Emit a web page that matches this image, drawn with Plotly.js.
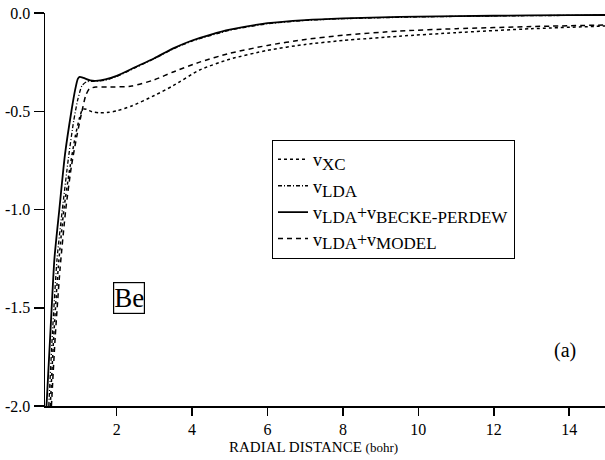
<!DOCTYPE html>
<html>
<head>
<meta charset="utf-8">
<script src="https://cdn.plot.ly/plotly-3.0.1.min.js"></script>
<style>html,body{margin:0;padding:0;background:#fff;}#chart{width:605px;height:460px;}</style>
</head>
<body>
<div id="chart"></div>
<script>
// v_XC (dotted)
const xcR = [0.24,0.33,0.45,0.6,0.75,0.9,1.02,1.1,1.2,1.35,1.55,1.8,2.0,2.4,3,3.5,4.2,5,6,7,8,9.5,11,13,15];
const xcV = [-2.0,-1.65,-1.3,-1.0,-0.8,-0.63,-0.53,-0.49,-0.49,-0.503,-0.508,-0.505,-0.498,-0.473,-0.42,-0.37,-0.29,-0.235,-0.19,-0.16,-0.14,-0.118,-0.1,-0.08,-0.066];
// v_LDA (dash-dot)
const ldaR = [0.2,0.3,0.42,0.56,0.72,0.86,0.97,1.08,1.2,1.4,1.7,2.0,2.5,3,3.5,4,5,6,7,8,10,12,15];
const ldaV = [-2.0,-1.62,-1.25,-1.0,-0.74,-0.55,-0.44,-0.37,-0.35,-0.348,-0.342,-0.323,-0.278,-0.232,-0.183,-0.143,-0.088,-0.055,-0.038,-0.029,-0.02,-0.015,-0.011];
// v_LDA + v_BECKE-PERDEW (solid)
const bpR = [0.14,0.25,0.35,0.48,0.63,0.8,0.9,0.97,1.02,1.12,1.3,1.45,1.7,2.0,2.5,3,3.5,4,4.5,5,6,7,8,9,10,12,14,15];
const bpV = [-2.0,-1.6,-1.25,-1.0,-0.72,-0.5,-0.39,-0.335,-0.325,-0.33,-0.343,-0.345,-0.338,-0.32,-0.275,-0.23,-0.18,-0.14,-0.11,-0.085,-0.052,-0.036,-0.027,-0.022,-0.018,-0.014,-0.011,-0.01];
// v_LDA + v_MODEL (dashed)
const modR = [0.27,0.37,0.5,0.65,0.8,0.95,1.08,1.18,1.28,1.45,1.8,2.4,3,3.5,4.2,5,6,7,8,9.5,11,13,15];
const modV = [-2.0,-1.65,-1.3,-1.0,-0.78,-0.62,-0.5,-0.42,-0.385,-0.377,-0.377,-0.372,-0.34,-0.3,-0.25,-0.205,-0.165,-0.135,-0.113,-0.092,-0.08,-0.069,-0.061];

const sb = s => '<sub><span style="font-size:17px">' + s + '</span></sub>';
const names = ['v' + sb('XC'), 'v' + sb('LDA'), 'v' + sb('LDA') + '+v' + sb('BECKE-PERDEW'), 'v' + sb('LDA') + '+v' + sb('MODEL')];
const xTicks = [2,4,6,8,10,12,14];
const yTicks = [0,-0.5,-1,-1.5,-2];
const yTickText = ['0.0','-0.5','-1.0','-1.5','-2.0'];

const serif = 'Liberation Serif, Times New Roman, serif';
const traces = [
  {x: xcR, y: xcV, name: names[0], line: {color:'#000', width:1.5, dash:'dot', shape:'spline', smoothing:0.6}},
  {x: ldaR, y: ldaV, name: names[1], line: {color:'#000', width:1.3, dash:'4px,2px,1px,2px', shape:'spline', smoothing:0.6}},
  {x: bpR, y: bpV, name: names[2], line: {color:'#000', width:1.8, shape:'spline', smoothing:0.6}},
  {x: modR, y: modV, name: names[3], line: {color:'#000', width:1.5, dash:'5px,4px', shape:'spline', smoothing:0.6}}
].map(t => Object.assign({type:'scatter', mode:'lines'}, t));

const layout = {
  width: 605, height: 460,
  margin: {l:45, r:0, t:13, b:54},
  paper_bgcolor: '#fff', plot_bgcolor: '#fff',
  showlegend: true,
  legend: {x:0.405, y:0.677, xanchor:'left', yanchor:'top', bgcolor:'#fff',
           bordercolor:'#000', borderwidth:1.2, font:{family:serif, size:18, color:'#000'},
           tracegroupgap:0, itemwidth:30},
  xaxis: {range:[0.1,14.95], tickvals:xTicks, ticktext:xTicks.map(String), ticks:'outside', ticklen:8,
          tickwidth:1.5, tickcolor:'#000', showline:true, linecolor:'#000', linewidth:1.5,
          showgrid:false, zeroline:false, tickfont:{family:serif, size:16, color:'#000'}},
  yaxis: {range:[-2,0], tickvals:yTicks, ticktext:yTickText, ticks:'outside', ticklen:10,
          tickwidth:1.5, tickcolor:'#000', showline:true, linecolor:'#000', linewidth:1.5,
          showgrid:false, zeroline:false, tickfont:{family:serif, size:16, color:'#000'}},
  annotations: [
    {x:2.34, y:-1.448, xref:'x', yref:'y', text:'Be', showarrow:false,
     font:{family:serif, size:27, color:'#000'}, bordercolor:'#000', borderwidth:1.2, borderpad:0, bgcolor:'#fff'},
    {x:13.88, y:-1.72, xref:'x', yref:'y', text:'(a)', showarrow:false,
     font:{family:serif, size:20, color:'#000'}},
    {x:0, y:0, xref:'paper', yref:'paper', text:'RADIAL DISTANCE <span style="font-size:13px">(bohr)</span>', showarrow:false,
     font:{family:serif, size:15, color:'#000'}}
  ]
};
// axis title annotation placed in paper coords derived from plot-area pixels
layout.annotations[2].x = (313-45)/560;
layout.annotations[2].y = -(447-406)/393;
layout.annotations[2].yanchor = 'middle';

Plotly.newPlot('chart', traces, layout, {staticPlot:true, displayModeBar:false});
</script>
</body>
</html>
